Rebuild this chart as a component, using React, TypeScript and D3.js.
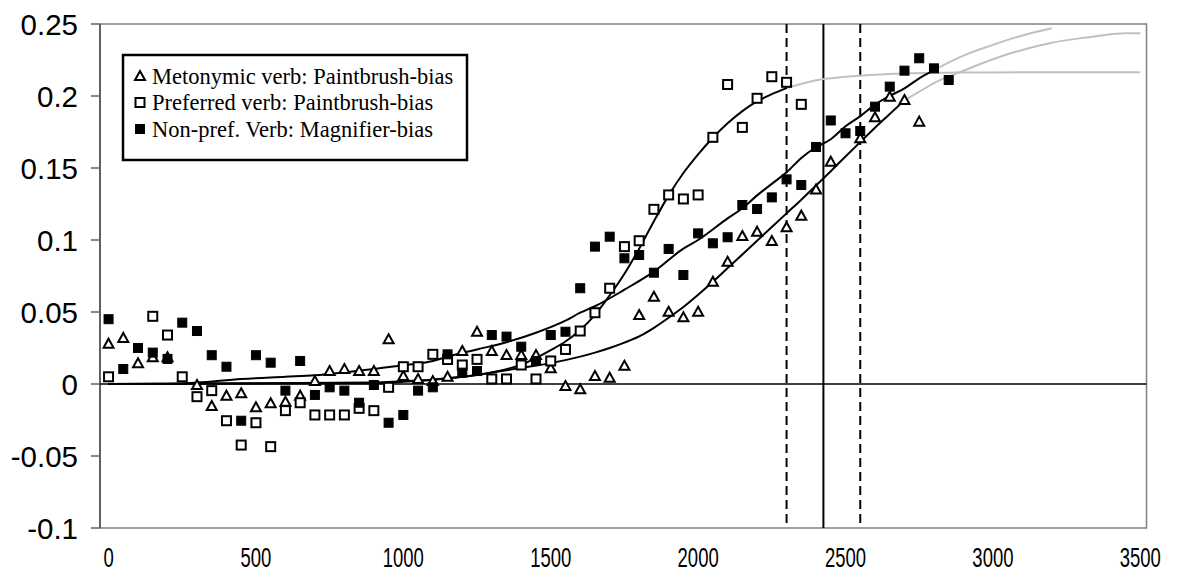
import React from "react";
import * as d3 from "d3";

// ---- data ----
const xTickValues = [0, 500, 1000, 1500, 2000, 2500, 3000, 3500];
const yTickValues = [0.25, 0.2, 0.15, 0.1, 0.05, 0, -0.05, -0.1];
const yTickLabels = ["0.25", "0.2", "0.15", "0.1", "0.05", "0", "-0.05", "-0.1"];

const legendLabels = [
  "Metonymic verb: Paintbrush-bias",
  "Preferred verb: Paintbrush-bias",
  "Non-pref. Verb: Magnifier-bias",
];

// Metonymic verb (open triangles)
const metonymic: [number, number][] = [
  [0, 0.028], [50, 0.032], [100, 0.0144], [150, 0.0185], [200, 0.0185], [300, -0.0007],
  [350, -0.0153], [400, -0.0081], [450, -0.0065], [500, -0.0162], [550, -0.0134], [600, -0.0123],
  [650, -0.0081], [700, 0.002], [750, 0.009], [800, 0.0104], [850, 0.009], [900, 0.009],
  [950, 0.031], [1000, 0.0056], [1050, 0.0035], [1100, 0.002], [1150, 0.005], [1200, 0.0229],
  [1250, 0.0363], [1300, 0.0229], [1350, 0.0201], [1400, 0.0201], [1450, 0.0201], [1500, 0.0109],
  [1550, -0.0014], [1600, -0.0037], [1650, 0.0056], [1700, 0.0044], [1750, 0.0127], [1800, 0.0479],
  [1850, 0.0606], [1900, 0.0502], [1950, 0.0463], [2000, 0.0502], [2050, 0.071], [2100, 0.0849],
  [2150, 0.1028], [2200, 0.1058], [2250, 0.0993], [2300, 0.1088], [2350, 0.1169], [2400, 0.135],
  [2450, 0.1544], [2550, 0.1706], [2600, 0.1852], [2650, 0.1995], [2700, 0.1972], [2750, 0.1822],
];

// Preferred verb (open squares)
const preferred: [number, number][] = [
  [0, 0.005], [150, 0.047], [200, 0.034], [250, 0.005], [300, -0.0088], [350, -0.0046],
  [400, -0.0255], [450, -0.0424], [500, -0.0269], [550, -0.0435], [600, -0.0185], [650, -0.013],
  [700, -0.0215], [750, -0.0215], [800, -0.0215], [850, -0.0169], [900, -0.0185], [950, -0.0023],
  [1000, 0.012], [1050, 0.012], [1100, 0.0206], [1150, 0.017], [1200, 0.0132], [1250, 0.0171],
  [1300, 0.0035], [1350, 0.0035], [1400, 0.0132], [1450, 0.0035], [1500, 0.016], [1550, 0.024],
  [1600, 0.0368], [1650, 0.0495], [1700, 0.0665], [1750, 0.0954], [1800, 0.0995], [1850, 0.1213],
  [1900, 0.1313], [1950, 0.1285], [2000, 0.1313], [2050, 0.1713], [2100, 0.208], [2150, 0.1782],
  [2200, 0.1984], [2250, 0.2134], [2300, 0.2095], [2350, 0.1942],
];

// Non-preferred verb (filled squares)
const nonPreferred: [number, number][] = [
  [0, 0.045], [50, 0.0104], [100, 0.025], [150, 0.0218], [200, 0.0174], [250, 0.0426],
  [300, 0.0368], [350, 0.02], [400, 0.012], [450, -0.0255], [500, 0.02], [550, 0.0148],
  [600, -0.0046], [650, 0.016], [700, -0.0076], [750, -0.0023], [800, -0.0046], [850, -0.013],
  [900, -0.0007], [950, -0.0269], [1000, -0.0215], [1050, -0.0046], [1100, -0.0023], [1150, 0.0206],
  [1200, 0.0079], [1250, 0.009], [1300, 0.034], [1350, 0.0329], [1400, 0.0259], [1450, 0.016],
  [1500, 0.034], [1550, 0.0363], [1600, 0.0665], [1650, 0.0954], [1700, 0.1023], [1750, 0.0873],
  [1800, 0.0896], [1850, 0.0773], [1900, 0.0938], [1950, 0.0757], [2000, 0.1046], [2050, 0.0977],
  [2100, 0.1019], [2150, 0.1243], [2200, 0.1215], [2250, 0.1296], [2300, 0.1421], [2350, 0.1382],
  [2400, 0.1646], [2450, 0.183], [2500, 0.1741], [2550, 0.1757], [2600, 0.1926], [2650, 0.2065],
  [2700, 0.2176], [2750, 0.2262], [2800, 0.2192], [2850, 0.2111],
];

// fitted curves (black, over the data range)
const fitPreferred: [number, number][] = [
  [0, 0], [500, 0.0005], [900, 0.001], [1000, 0.002], [1100, 0.003], [1200, 0.005], [1300, 0.008],
  [1400, 0.0135], [1450, 0.018], [1500, 0.0235], [1550, 0.0295], [1600, 0.0375], [1650, 0.048],
  [1700, 0.0615], [1750, 0.0765], [1800, 0.094], [1850, 0.113], [1900, 0.131], [1950, 0.1465],
  [2000, 0.1595], [2050, 0.171], [2100, 0.181], [2150, 0.1895], [2200, 0.1962], [2250, 0.2013],
  [2300, 0.2055],
];
const fitNonPreferred: [number, number][] = [
  [0, 0], [200, 0], [300, 0.001], [450, 0.0035], [600, 0.005], [700, 0.006], [800, 0.008],
  [900, 0.0104], [1000, 0.013], [1100, 0.016], [1150, 0.019], [1250, 0.024], [1350, 0.029],
  [1450, 0.0356], [1550, 0.044], [1600, 0.0495], [1650, 0.054], [1750, 0.0655], [1850, 0.078],
  [1950, 0.094], [2000, 0.1], [2100, 0.115], [2150, 0.122], [2200, 0.131], [2250, 0.139],
  [2300, 0.147], [2350, 0.157], [2400, 0.1644], [2450, 0.17], [2500, 0.179], [2550, 0.186],
  [2600, 0.194], [2650, 0.2], [2700, 0.2053], [2750, 0.2123], [2800, 0.218],
];
const fitMetonymic: [number, number][] = [
  [0, 0], [900, 0.0005], [1000, 0.0015], [1100, 0.003], [1200, 0.005], [1300, 0.008], [1400, 0.0112],
  [1500, 0.0145], [1600, 0.019], [1650, 0.0218], [1700, 0.025], [1750, 0.0287], [1800, 0.033],
  [1850, 0.039], [1900, 0.046], [1950, 0.0535], [2000, 0.062], [2050, 0.071], [2100, 0.0805],
  [2150, 0.09], [2200, 0.0995], [2250, 0.109], [2300, 0.1185], [2350, 0.128], [2400, 0.1378],
  [2450, 0.1478], [2500, 0.158], [2550, 0.168], [2600, 0.178], [2650, 0.1875], [2700, 0.197],
];

// extrapolated curves (grey)
const extPreferred: [number, number][] = [
  [2300, 0.2055], [2400, 0.211], [2500, 0.2133], [2600, 0.2148], [2700, 0.2157], [2850, 0.2162],
  [3000, 0.2164], [3500, 0.2165],
];
const extNonPreferred: [number, number][] = [
  [2800, 0.218], [2900, 0.228], [3000, 0.2355], [3050, 0.239], [3100, 0.242], [3200, 0.247],
];
const extMetonymic: [number, number][] = [
  [2700, 0.197], [2750, 0.203], [2800, 0.209], [2900, 0.2175], [3000, 0.2255], [3050, 0.229],
  [3100, 0.232], [3200, 0.237], [3300, 0.2402], [3350, 0.2415], [3450, 0.2435], [3500, 0.2435],
];

// reference lines
const dashedLines = [2300, 2550];
const solidLines = [2425];

export default function App() {
  const W = 1180, H = 583;
  const left = 100, right = 1146.5, top = 24, bottom = 528;
  const x = d3.scaleLinear().domain([-29, 3521]).range([left, right]);
  const y = d3.scaleLinear().domain([-0.1, 0.25]).range([bottom, top]);
  const line = d3.line<[number, number]>().x((d) => x(d[0])).y((d) => y(d[1])).curve(d3.curveMonotoneX);

  const tri = (cx: number, cy: number, key: string | number) => {
    const s = 5;
    return (
      <path key={key} d={`M${cx},${cy - s}L${cx + s},${cy + s * 0.8}L${cx - s},${cy + s * 0.8}Z`}
        fill="#fff" stroke="#000" strokeWidth={2} strokeLinejoin="miter" />
    );
  };
  const sq = (cx: number, cy: number, filled: boolean, key: string | number) => (
    <rect key={key} x={cx - 4.5} y={cy - 4.5} width={9} height={9}
      fill={filled ? "#000" : "#fff"} stroke="#000" strokeWidth={filled ? 1 : 2} />
  );

  return (
    <svg width={W} height={H} style={{ position: "absolute", left: 0, top: 0, background: "#fff" }}>
      <rect x={0} y={0} width={W} height={H} fill="#fff" />
      {/* frame */}
      <rect x={left} y={top} width={right - left} height={bottom - top} fill="none" stroke="#808080" strokeWidth={1.5} />
      <line x1={left} x2={left} y1={top} y2={bottom} stroke="#606060" strokeWidth={2} />
      {/* y ticks */}
      {yTickValues.map((v, i) => (
        <g key={"yt" + i}>
          <line x1={left - 9} x2={left} y1={y(v)} y2={y(v)} stroke="#606060" strokeWidth={1.5} />
          <text x={78} y={y(v) + 10.5} textAnchor="end" fontFamily="Liberation Sans, Arial, sans-serif" fontSize={29.5} fill="#000">
            {yTickLabels[i]}
          </text>
        </g>
      ))}
      {/* x labels */}
      {xTickValues.map((v) => (
        <text key={"xt" + v} transform={`translate(${x(v)},567) scale(0.66,1)`} textAnchor="middle"
          fontFamily="Liberation Sans, Arial, sans-serif" fontSize={28} fill="#000">
          {String(v)}
        </text>
      ))}
      {/* zero line */}
      <line x1={left} x2={right} y1={y(0)} y2={y(0)} stroke="#000" strokeWidth={1.5} />
      {/* reference lines */}
      {dashedLines.map((v) => (
        <line key={"dl" + v} x1={x(v)} x2={x(v)} y1={top} y2={bottom} stroke="#000" strokeWidth={2} strokeDasharray="9,5" />
      ))}
      {solidLines.map((v) => (
        <line key={"sl" + v} x1={x(v)} x2={x(v)} y1={top} y2={bottom} stroke="#000" strokeWidth={2} />
      ))}
      {/* grey extrapolations */}
      {[extPreferred, extNonPreferred, extMetonymic].map((d, i) => (
        <path key={"ext" + i} d={line(d) || ""} fill="none" stroke="#c0c0c0" strokeWidth={2} />
      ))}
      {/* fitted curves */}
      {[fitPreferred, fitNonPreferred, fitMetonymic].map((d, i) => (
        <path key={"fit" + i} d={line(d) || ""} fill="none" stroke="#000" strokeWidth={2} />
      ))}
      {/* points */}
      {metonymic.map((d, i) => tri(x(d[0]), y(d[1]), "m" + i))}
      {preferred.map((d, i) => sq(x(d[0]), y(d[1]), false, "p" + i))}
      {nonPreferred.map((d, i) => sq(x(d[0]), y(d[1]), true, "n" + i))}
      {/* legend */}
      <rect x={123} y={55} width={344} height={105} fill="#fff" stroke="#000" strokeWidth={2.5} />
      {legendLabels.map((t, i) => {
        const cy = 76 + i * 26.5;
        return (
          <g key={"lg" + i}>
            {i === 0 ? tri(140, cy, "lt") : sq(140, cy, i === 2, "ls" + i)}
            <text x={152} y={cy + 7.5} fontFamily="Liberation Serif, Times New Roman, serif" fontSize={22.5} fill="#000">
              {t}
            </text>
          </g>
        );
      })}
    </svg>
  );
}
